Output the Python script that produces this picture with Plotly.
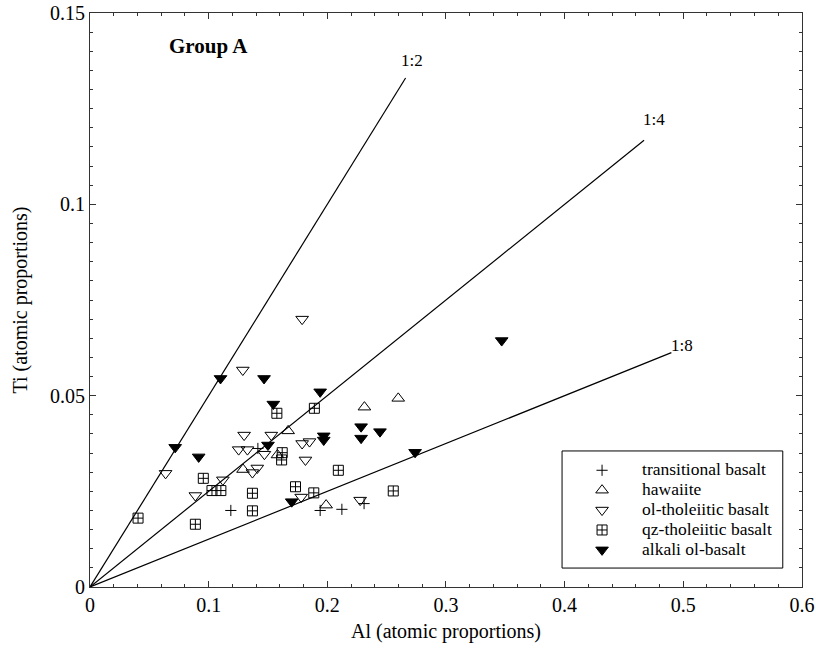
import plotly.graph_objects as go

# ---------------- data (Al, Ti atomic proportions) ----------------
transitional_al = [0.1187, 0.1415, 0.194, 0.2123, 0.2310]
transitional_ti = [0.0200, 0.0362, 0.0200, 0.0203, 0.0218]

hawaiite_al = [0.129, 0.158, 0.167, 0.199, 0.2313, 0.2598]
hawaiite_ti = [0.0307, 0.0345, 0.0408, 0.0214, 0.0470, 0.0493]

ol_thol_al = [0.0637, 0.0888, 0.1120, 0.1288, 0.1299, 0.1253, 0.1327, 0.1528, 0.1470,
              0.1410, 0.1369, 0.1788, 0.1788, 0.1850, 0.1816, 0.1780, 0.2277]
ol_thol_ti = [0.0297, 0.0239, 0.0280, 0.0567, 0.0397, 0.0359, 0.0359, 0.0397, 0.0347,
              0.0311, 0.0299, 0.0700, 0.0375, 0.0380, 0.0332, 0.0235, 0.0227]

qz_thol_al = [0.0405, 0.0888, 0.0955, 0.1028, 0.1103, 0.1369, 0.1369, 0.1575, 0.1891,
              0.1620, 0.1615, 0.2093, 0.1732, 0.1886, 0.2556]
qz_thol_ti = [0.0180, 0.0164, 0.0284, 0.0252, 0.0252, 0.0245, 0.0199, 0.0454, 0.0467,
              0.0351, 0.0332, 0.0305, 0.0262, 0.0246, 0.0251]

alkali_al = [0.0718, 0.0916, 0.110, 0.1467, 0.1545, 0.150, 0.170, 0.194, 0.197,
             0.197, 0.2285, 0.2285, 0.2444, 0.274, 0.347]
alkali_ti = [0.0365, 0.0340, 0.0545, 0.0545, 0.0478, 0.0371, 0.0223, 0.0510, 0.0395,
             0.0384, 0.0419, 0.0389, 0.0406, 0.0352, 0.0644]

# reference ratio lines Ti:Al
ratio_labels = ["1:2", "1:4", "1:8"]
ratio_values = [0.5, 0.25, 0.125]
ratio_line_end_al = [0.266, 0.467, 0.49]
ratio_label_al = [0.271, 0.475, 0.499]
ratio_label_ti = [0.1375, 0.1222, 0.0630]

x_ticks = [0, 0.1, 0.2, 0.3, 0.4, 0.5, 0.6]
y_ticks = [0, 0.05, 0.1, 0.15]

FONT = "Liberation Serif"

fig = go.Figure()

# ratio lines
for lab, r, xe in zip(ratio_labels, ratio_values, ratio_line_end_al):
    fig.add_trace(go.Scatter(x=[0, xe], y=[0, xe * r], mode="lines",
                             line=dict(color="black", width=1.2),
                             showlegend=False, hoverinfo="skip"))

series = [
    ("transitional basalt", transitional_al, transitional_ti, "cross-thin-open", 8),
    ("hawaiite", hawaiite_al, hawaiite_ti, "triangle-up-open", 11),
    ("ol-tholeiitic basalt", ol_thol_al, ol_thol_ti, "triangle-down-open", 11),
    ("qz-tholeiitic basalt", qz_thol_al, qz_thol_ti, "square-cross-open", 10),
    ("alkali ol-basalt", alkali_al, alkali_ti, "triangle-down", 11),
]
for name, xs, ys, sym, sz in series:
    fig.add_trace(go.Scatter(
        x=xs, y=ys, mode="markers",
        name='<span style="font-size:17.5px">' + name + "</span>",
        marker=dict(symbol=sym, size=sz, color="black",
                    line=dict(color="black", width=1)),
    ))

annotations = []
for lab, xa, ya in zip(ratio_labels, ratio_label_al, ratio_label_ti):
    annotations.append(dict(x=xa, y=ya, xref="x", yref="y", text=lab, showarrow=False,
                            font=dict(family=FONT, size=17, color="black")))
annotations.append(dict(x=0.1, y=0.1413, xref="x", yref="y", text="<b>Group A</b>",
                        showarrow=False, font=dict(family=FONT, size=21, color="black")))

axis_common = dict(
    showline=True, linecolor="#333", linewidth=1, mirror="allticks",
    ticks="inside", ticklen=6, tickwidth=1, tickcolor="#333",
    showgrid=False, zeroline=False, ticklabeloverflow="allow", automargin=False,
    tickfont=dict(family=FONT, size=20, color="black"),
    title_font=dict(family=FONT, size=20, color="black"),
)

fig.update_layout(
    width=816, height=652,
    margin=dict(l=90, r=14, t=13, b=65, autoexpand=False),
    paper_bgcolor="white", plot_bgcolor="white",
    xaxis=dict(range=[0, 0.6001], tickvals=x_ticks, ticktext=[str(v) for v in x_ticks],
               title=dict(text="Al (atomic proportions)", standoff=8),
               minor=dict(dtick=0.02, ticks="inside", ticklen=3, tickcolor="#333"),
               **axis_common),
    yaxis=dict(range=[0, 0.15], tickvals=y_ticks, ticktext=[str(v) for v in y_ticks],
               title=dict(text="Ti (atomic proportions)", standoff=17),
               minor=dict(dtick=0.005, ticks="inside", ticklen=3, tickcolor="#333"),
               **axis_common),
    legend=dict(x=0.663, y=0.2294, xanchor="left", yanchor="top",
                bgcolor="rgba(0,0,0,0)", borderwidth=0,
                font=dict(family=FONT, size=13, color="black"),
                itemwidth=70, tracegroupgap=0),
    shapes=[dict(type="rect", xref="paper", yref="paper",
                 x0=0.663, x1=0.973, y0=0.033, y1=0.237,
                 line=dict(color="black", width=1), fillcolor="white", layer="above")],
    annotations=annotations,
    showlegend=True,
)

fig.write_html("out.html")
